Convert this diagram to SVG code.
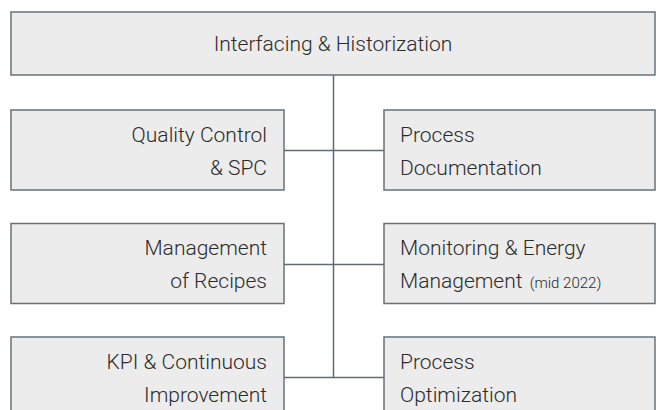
<svg xmlns="http://www.w3.org/2000/svg" width="656" height="410" viewBox="0 0 656 410">
<style>
.box{fill:#ececec;stroke:#66737b;stroke-width:1.5}
.t{font-family:Roboto,"Liberation Sans",sans-serif;font-weight:300;font-size:21px;fill:#2b2b2b}
.r{text-anchor:end}
.s{font-size:15px}
.c{stroke:#5f6b73;stroke-width:1.5;fill:none}
</style>
<rect width="656" height="410" fill="#ffffff"/>
<g id="connectors">
<line class="c" x1="333.5" y1="75" x2="333.5" y2="377.5"/>
<line class="c" x1="284" y1="150.5" x2="384" y2="150.5"/>
<line class="c" x1="284" y1="264.5" x2="384" y2="264.5"/>
<line class="c" x1="284" y1="377.5" x2="384" y2="377.5"/>
</g>
<g id="interfacing">
<rect class="box" x="11" y="12" width="644" height="63"/>
<text class="t" x="333" y="51" text-anchor="middle">Interfacing &amp; Historization</text>
</g>
<g id="quality">
<rect class="box" x="11" y="110" width="273" height="80"/>
<text class="t r" x="267" y="142">Quality Control</text>
<text class="t r" x="267" y="175">&amp; SPC</text>
</g>
<g id="documentation">
<rect class="box" x="384" y="110" width="271" height="80"/>
<text class="t" x="400" y="142">Process</text>
<text class="t" x="400" y="175">Documentation</text>
</g>
<g id="recipes">
<rect class="box" x="11" y="223.5" width="273" height="80"/>
<text class="t r" x="267" y="255">Management</text>
<text class="t r" x="267" y="288">of Recipes</text>
</g>
<g id="monitoring">
<rect class="box" x="384" y="223.5" width="271" height="80"/>
<text class="t" x="400" y="255">Monitoring &amp; Energy</text>
<text class="t" x="400" y="288">Management <tspan class="s" dx="2">(mid 2022)</tspan></text>
</g>
<g id="kpi">
<rect class="box" x="11" y="337" width="273" height="80"/>
<text class="t r" x="267" y="369">KPI &amp; Continuous</text>
<text class="t r" x="267" y="402">Improvement</text>
</g>
<g id="optimization">
<rect class="box" x="384" y="337" width="271" height="80"/>
<text class="t" x="400" y="369">Process</text>
<text class="t" x="400" y="402">Optimization</text>
</g>
</svg>
